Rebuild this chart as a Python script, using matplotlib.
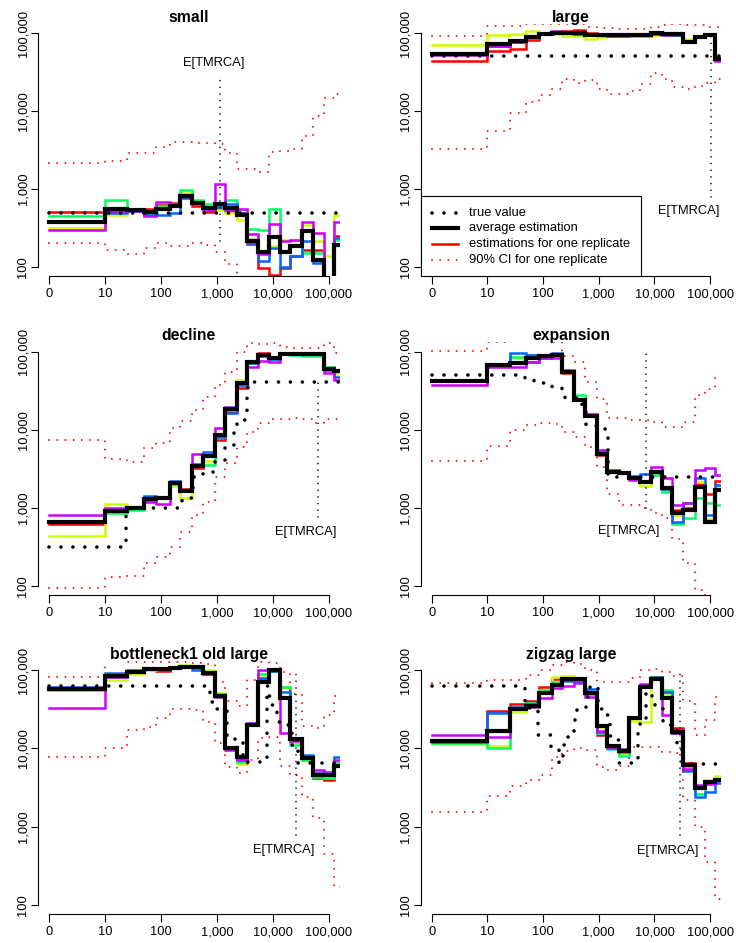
import numpy as np
import matplotlib
matplotlib.use('Agg')
import matplotlib.pyplot as plt
from matplotlib.lines import Line2D
from matplotlib.patches import Rectangle

plt.rcParams['font.family'] = ['Liberation Sans', 'DejaVu Sans']

# ---------------- data ----------------
# common step grid (time); 0 is drawn at the "0" tick (position of 1 on the log axis)
TIME_EDGES = [0, 10, 25, 49, 83, 145, 220, 355, 575, 930, 1410, 2290, 3470, 5560,
              8710, 13500, 20400, 33100, 52500, 81300, 123000, 200000]
X_TICKS = [0, 10, 100, 1000, 10000, 100000]
X_TICK_LABELS = ['0', '10', '100', '1,000', '10,000', '100,000']
Y_TICKS = [100, 1000, 10000, 100000]
Y_TICK_LABELS = ['100', '1,000', '10,000', '100,000']
REP_COLORS = ['#FF0000', '#CCFF00', '#00FF66', '#0066FF', '#CC00FF']
TITLES = ['small', 'large', 'decline', 'expansion', 'bottleneck1 old large', 'zigzag large']
LEGEND_LABELS = ['true value', 'average estimation', 'estimations for one replicate',
                 '90% CI for one replicate']

# small
SMALL_AVG = [376, 557, 531, 505, 550, 597, 810, 658, 570, 645, 570, 467, 213, 157, 242, 158, 184, 292, 122, 60, 193]
SMALL_RED = [505, 530, 530, 550, 620, 658, 760, 610, 505, 570, 520, 467, 200, 98, 78, 96, 137, 165, 163, 60, 250]
SMALL_YELLOW = [315, 467, 520, 520, 570, 600, 880, 690, 568, 545, 490, 403, 228, 152, 184, 224, 224, 345, 213, 137, 467]
SMALL_GREEN = [445, 720, 535, 467, 600, 640, 970, 720, 645, 620, 720, 490, 308, 300, 550, 159, 193, 152, 152, 70, 224]
SMALL_BLUE = [380, 490, 525, 467, 467, 490, 800, 660, 545, 590, 645, 490, 205, 121, 175, 101, 137, 218, 112, 60, 235]
SMALL_PURPLE = [300, 520, 530, 445, 685, 640, 840, 660, 545, 1150, 545, 557, 265, 148, 360, 218, 224, 380, 272, 60, 380]
SMALL_CI_HIGH = [2140, 2290, 2900, 2900, 3500, 4000, 4000, 3900, 3900, 3800, 2900, 1800, 1800, 1650, 3000, 3100, 3300, 4800, 8500, 14500, 16500]
SMALL_CI_LOW = [203, 165, 146, 175, 203, 184, 184, 205, 193, 155, 110, 75, 60, 50, 45, 40, 40, 35, 30, 30, 30]
SMALL_TRUE_T = [0]
SMALL_TRUE_N = [500]
SMALL_TMRCA = [1150, 213, 26000]

# large
LARGE_AVG = [54400, 73000, 79000, 89000, 98000, 100000, 100000, 100000, 95000, 95000, 93000, 93000, 93000, 93000, 100000, 97000, 97000, 77000, 89000, 95000, 47000]
LARGE_RED = [43500, 58000, 63000, 82000, 97000, 100000, 106000, 110000, 100000, 98000, 93000, 93000, 93000, 93000, 97000, 97000, 95000, 80000, 90000, 97000, 46000]
LARGE_YELLOW = [70500, 95000, 98000, 106000, 98000, 97000, 92000, 92000, 84000, 90000, 92000, 92000, 92000, 92000, 95000, 95000, 93000, 83000, 88000, 95000, 48000]
LARGE_GREEN = [53000, 67500, 77000, 89000, 97000, 100000, 100000, 98000, 97000, 93000, 92000, 92000, 92000, 92000, 97000, 95000, 95000, 80000, 90000, 95000, 47000]
LARGE_BLUE = [53000, 67500, 77000, 89000, 97000, 100000, 100000, 98000, 97000, 95000, 92000, 92000, 93000, 95000, 97000, 97000, 95000, 80000, 90000, 97000, 45000]
LARGE_PURPLE = [52000, 67500, 77000, 89000, 100000, 105000, 100000, 100000, 97000, 95000, 93000, 93000, 93000, 95000, 97000, 95000, 97000, 77000, 92000, 98000, 44000]
LARGE_CI_HIGH = [92000, 124000, 124000, 129000, 132000, 132000, 132000, 132000, 120000, 117000, 115000, 114000, 114000, 114000, 120000, 128000, 130000, 128000, 125000, 118000, 118000]
LARGE_CI_LOW = [3260, 5580, 9300, 13100, 16000, 19400, 26000, 23000, 25000, 19400, 16500, 16500, 18000, 22000, 31000, 26000, 20000, 19000, 21000, 23000, 26000]
LARGE_TRUE_T = [0]
LARGE_TRUE_N = [50000]
LARGE_TMRCA = [102000, 800, 98000]

# decline
DECLINE_AVG = [665, 920, 1000, 1290, 1325, 2100, 1660, 3440, 4660, 8570, 18400, 39400, 74000, 90800, 82000, 93000, 93000, 93000, 93000, 59600, 56000]
DECLINE_RED = [620, 920, 1000, 1330, 1340, 2150, 1770, 3200, 4800, 7500, 16800, 34000, 72000, 95000, 82000, 95000, 93000, 90000, 90000, 62000, 57000]
DECLINE_YELLOW = [436, 1120, 960, 1290, 1340, 1900, 1350, 3440, 4000, 8900, 18500, 43400, 72000, 89000, 82000, 93000, 93000, 93000, 93000, 64000, 52000]
DECLINE_GREEN = [665, 850, 950, 1230, 1370, 2050, 1640, 3440, 3550, 8200, 17700, 40000, 72000, 89000, 80000, 93000, 91000, 88000, 88000, 64000, 59000]
DECLINE_BLUE = [665, 920, 1000, 1430, 1340, 2210, 1700, 3600, 5250, 8200, 16200, 37000, 72000, 89000, 80000, 97000, 95000, 93000, 93000, 58000, 47000]
DECLINE_PURPLE = [810, 1000, 1000, 1200, 1120, 2150, 1660, 4900, 4660, 10600, 19800, 40000, 64500, 76800, 74500, 95000, 95000, 93000, 93000, 53500, 44000]
DECLINE_CI_HIGH = [7400, 4200, 3830, 5800, 6700, 10400, 13000, 17900, 26000, 37400, 55000, 100000, 128000, 125000, 128000, 116000, 110000, 110000, 110000, 130000, 97000]
DECLINE_CI_LOW = [93, 131, 135, 196, 237, 318, 497, 811, 1200, 2510, 3720, 6080, 9500, 12300, 13600, 13600, 14000, 13800, 12100, 13600, 13600]
DECLINE_TRUE_T = [0, 24, 234, 380, 575, 910, 1410, 2000, 2340, 3430, 3520, 3630]
DECLINE_TRUE_N = [318, 1000, 1350, 2500, 2900, 3900, 6300, 10100, 13300, 19500, 28100, 40600]
DECLINE_TMRCA = [63500, 770, 41300]

# expansion
EXPANSION_AVG = [42000, 67500, 72000, 82000, 88000, 92000, 55500, 24000, 15000, 4900, 2910, 2760, 2450, 2160, 2840, 1780, 850, 940, 1870, 665, 1690]
EXPANSION_RED = [42000, 67500, 74500, 74500, 84000, 92000, 52800, 24500, 15000, 4700, 3100, 2840, 2400, 2200, 2840, 1700, 940, 1000, 2000, 1500, 2180]
EXPANSION_YELLOW = [42000, 67500, 82000, 82000, 88000, 92000, 55500, 25000, 15000, 4900, 2910, 2840, 2400, 1900, 2840, 1700, 800, 950, 2150, 730, 1900]
EXPANSION_GREEN = [42000, 67500, 86000, 90000, 92000, 92000, 55500, 27900, 15000, 4900, 2910, 2840, 2450, 2200, 2600, 1620, 630, 735, 1330, 1140, 1100]
EXPANSION_BLUE = [43500, 67500, 95000, 92000, 92000, 95000, 58000, 25000, 15000, 5200, 2910, 2840, 2550, 2700, 3000, 1750, 660, 1140, 2400, 800, 1950]
EXPANSION_PURPLE = [37500, 64000, 64000, 74500, 84000, 82000, 55500, 24000, 15900, 5500, 2910, 2840, 2260, 2160, 3300, 2400, 1090, 1140, 3050, 3200, 2630]
EXPANSION_CI_HIGH = [103000, 132000, 150000, 150000, 150000, 132000, 89000, 74000, 41000, 25000, 14000, 14000, 13500, 13500, 12500, 11000, 11000, 12500, 28000, 33600, 45600]
EXPANSION_CI_LOW = [4000, 6200, 10000, 11500, 12300, 12000, 9500, 8200, 6100, 3300, 1500, 1090, 1090, 1000, 850, 735, 400, 200, 90, 50, 40]
EXPANSION_TRUE_T = [0, 48, 68, 100, 145, 219, 251, 490, 589, 912, 1445]
EXPANSION_TRUE_N = [50000, 45600, 41300, 39900, 33800, 31700, 25200, 20000, 11200, 10100, 2500]
EXPANSION_TMRCA = [7080, 990, 95000]

# bottleneck1 old large
BOTTLENECK_AVG = [56600, 84000, 95000, 103000, 103000, 107000, 110000, 110000, 90600, 46600, 10200, 7830, 19900, 71000, 100000, 43500, 13000, 7500, 4500, 4500, 5900]
BOTTLENECK_RED = [56600, 82000, 92000, 103000, 98000, 105000, 110000, 108000, 88000, 48000, 10500, 6900, 19900, 80000, 98000, 61000, 12000, 7000, 4200, 4000, 6800]
BOTTLENECK_YELLOW = [56600, 74500, 90000, 100000, 103000, 107000, 115000, 105000, 100000, 50400, 10500, 6400, 19900, 80600, 98000, 61000, 12000, 7000, 4600, 4500, 6600]
BOTTLENECK_GREEN = [55000, 82000, 94000, 103000, 103000, 107000, 112000, 110000, 95000, 49000, 10500, 6700, 19900, 90000, 98000, 61000, 11000, 7100, 4300, 4200, 6700]
BOTTLENECK_BLUE = [61300, 92500, 100000, 105000, 103000, 107000, 110000, 100000, 92000, 47000, 10500, 7400, 19900, 78000, 98000, 53000, 13400, 8300, 4900, 5000, 7800]
BOTTLENECK_PURPLE = [32500, 82000, 94000, 103000, 103000, 107000, 110000, 110000, 90000, 44800, 9500, 7000, 21300, 100000, 100000, 15500, 12500, 7600, 5300, 4800, 7200]
BOTTLENECK_CI_HIGH = [80600, 134000, 126000, 126000, 125000, 125000, 125000, 122000, 118000, 70000, 40000, 34700, 75000, 127000, 124000, 95000, 50000, 19000, 18000, 27000, 46000]
BOTTLENECK_CI_LOW = [7700, 10000, 17100, 18900, 24200, 31500, 31500, 31000, 22000, 11600, 5700, 4800, 7200, 13400, 14100, 6000, 4500, 2400, 1300, 450, 170]
BOTTLENECK_TRUE_T = [0, 760, 1000, 1500, 2100, 3000, 7900, 8500, 9500, 12000, 17000, 22000, 28000]
BOTTLENECK_TRUE_N = [63000, 39400, 31800, 14400, 12800, 6600, 62500, 46700, 35700, 21900, 19900, 11000, 6460]
BOTTLENECK_TMRCA = [26300, 790, 95000]

# zigzag large
ZIGZAG_AVG = [12300, 16800, 32000, 34400, 50800, 65000, 76300, 76000, 51500, 19400, 10600, 9300, 24100, 61200, 77500, 43500, 16000, 6200, 3100, 3680, 4000]
ZIGZAG_RED = [12200, 30300, 36500, 40600, 61300, 76500, 80000, 76000, 50000, 14800, 10200, 9200, 24200, 61200, 80600, 43500, 18000, 6500, 3200, 3800, 4000]
ZIGZAG_YELLOW = [11200, 10800, 29000, 33400, 56000, 82200, 84000, 80000, 50000, 18600, 10000, 8300, 22300, 21500, 82000, 50000, 15500, 6000, 3300, 3900, 4420]
ZIGZAG_GREEN = [11800, 10000, 31500, 38000, 56000, 70000, 76000, 74000, 50000, 15500, 9700, 7970, 24200, 61200, 80600, 55500, 15500, 6000, 2650, 3700, 3900]
ZIGZAG_BLUE = [12200, 27900, 33400, 37000, 53000, 67000, 72000, 71000, 56700, 16300, 10700, 9100, 24200, 61200, 80600, 52500, 15500, 5200, 2410, 2800, 3580]
ZIGZAG_PURPLE = [14600, 14100, 33000, 33400, 44300, 58400, 62400, 67500, 44800, 16800, 10200, 9700, 25400, 66300, 76000, 26600, 15500, 5500, 3400, 3500, 3900]
ZIGZAG_CI_HIGH = [67600, 74500, 74500, 86300, 100000, 116000, 125000, 120000, 100000, 71000, 71000, 71000, 78000, 100000, 103000, 95000, 85000, 40000, 15000, 23000, 45600]
ZIGZAG_CI_LOW = [1550, 2470, 3300, 3900, 4600, 7800, 9350, 10000, 9500, 5800, 5300, 6000, 10500, 10300, 10300, 9100, 8700, 2200, 1000, 350, 120]
ZIGZAG_TRUE_T = [0, 47, 54, 81, 138, 190, 224, 229, 269, 355, 398, 589, 692, 955, 1413, 1585, 2239, 2344,
                 5012, 7079, 8913, 10233, 14125, 17783, 25119, 31623]
ZIGZAG_TRUE_N = [63000, 39400, 32300, 14800, 10500, 6460, 8000, 11000, 14100, 22700, 32300, 45000, 63000, 31600,
                 26600, 14400, 12600, 6500, 20300, 63000, 46500, 35700, 22000, 19900, 11300, 6400]
ZIGZAG_TMRCA = [28200, 790, 95000]

# ---------------- layout ----------------
W, H, DPI = 736, 943, 100
COL_X = [(38.1, 339.7), (420.6, 721.3)]
ROW_Y = [(23.6, 276.4), (342.3, 595.4), (660.6, 914.4)]
LABEL_POS = [(890, 41000), (40700, 515), (39300, 495), (3470, 505), (16000, 500), (17000, 490)]
FS = 9.3
FS_TITLE = 11.3

PANELS = [
    (SMALL_AVG, [SMALL_RED, SMALL_YELLOW, SMALL_GREEN, SMALL_BLUE, SMALL_PURPLE],
     SMALL_CI_LOW, SMALL_CI_HIGH, SMALL_TRUE_T, SMALL_TRUE_N, SMALL_TMRCA),
    (LARGE_AVG, [LARGE_RED, LARGE_YELLOW, LARGE_GREEN, LARGE_BLUE, LARGE_PURPLE],
     LARGE_CI_LOW, LARGE_CI_HIGH, LARGE_TRUE_T, LARGE_TRUE_N, LARGE_TMRCA),
    (DECLINE_AVG, [DECLINE_RED, DECLINE_YELLOW, DECLINE_GREEN, DECLINE_BLUE, DECLINE_PURPLE],
     DECLINE_CI_LOW, DECLINE_CI_HIGH, DECLINE_TRUE_T, DECLINE_TRUE_N, DECLINE_TMRCA),
    (EXPANSION_AVG, [EXPANSION_RED, EXPANSION_YELLOW, EXPANSION_GREEN, EXPANSION_BLUE, EXPANSION_PURPLE],
     EXPANSION_CI_LOW, EXPANSION_CI_HIGH, EXPANSION_TRUE_T, EXPANSION_TRUE_N, EXPANSION_TMRCA),
    (BOTTLENECK_AVG, [BOTTLENECK_RED, BOTTLENECK_YELLOW, BOTTLENECK_GREEN, BOTTLENECK_BLUE, BOTTLENECK_PURPLE],
     BOTTLENECK_CI_LOW, BOTTLENECK_CI_HIGH, BOTTLENECK_TRUE_T, BOTTLENECK_TRUE_N, BOTTLENECK_TMRCA),
    (ZIGZAG_AVG, [ZIGZAG_RED, ZIGZAG_YELLOW, ZIGZAG_GREEN, ZIGZAG_BLUE, ZIGZAG_PURPLE],
     ZIGZAG_CI_LOW, ZIGZAG_CI_HIGH, ZIGZAG_TRUE_T, ZIGZAG_TRUE_N, ZIGZAG_TMRCA),
]

TRUE_STYLE = dict(color='black', lw=2.6, ls=(0, (0.01, 3.3)), dash_capstyle='round')
CI_STYLE = dict(color='#FF0000', lw=1.4, ls=(0, (0.01, 4.2)), dash_capstyle='round')
TM_STYLE = dict(color='black', lw=1.2, ls=(0, (0.01, 4.0)), dash_capstyle='round')
REP_LW = 1.8
AVG_LW = 3.0


def xpos(t):
    return np.maximum(np.asarray(t, dtype=float), 1.0)


def steps(ax, edges, vals, **kw):
    x = xpos(edges)
    y = list(vals) + [vals[-1]]
    ax.plot(x, y, drawstyle='steps-post', **kw)


fig = plt.figure(figsize=(W / DPI, H / DPI), dpi=DPI)

for i, (avg, reps, ci_lo, ci_hi, tt, tn, tm) in enumerate(PANELS):
    r, c = divmod(i, 2)
    x0, x1 = COL_X[c]
    y0, y1 = ROW_Y[r]
    ax = fig.add_axes([x0 / W, 1 - y1 / H, (x1 - x0) / W, (y1 - y0) / H])
    ax.set_xscale('log')
    ax.set_yscale('log')
    ax.set_xlim(10 ** -0.2, 10 ** 5.2)
    ax.set_ylim(10 ** 1.88, 10 ** 5.12)

    for vals, col in zip(reps, REP_COLORS):
        steps(ax, TIME_EDGES, vals, color=col, lw=REP_LW, solid_joinstyle='miter')
    steps(ax, TIME_EDGES, ci_lo, **CI_STYLE)
    steps(ax, TIME_EDGES, ci_hi, **CI_STYLE)
    steps(ax, TIME_EDGES, avg, color='black', lw=AVG_LW, solid_joinstyle='miter')
    steps(ax, list(tt) + [TIME_EDGES[-1]], list(tn), **TRUE_STYLE)
    ax.plot([tm[0], tm[0]], [tm[1], tm[2]], **TM_STYLE)
    lx, ly = LABEL_POS[i]
    ax.text(lx, ly, 'E[TMRCA]', ha='center', va='center', fontsize=FS)

    for s in ['top', 'right']:
        ax.spines[s].set_visible(False)
    ax.spines['left'].set_bounds(100, 100000)
    ax.spines['bottom'].set_bounds(1, 100000)
    for s in ['left', 'bottom']:
        ax.spines[s].set_linewidth(0.8)
    ax.set_xticks(xpos(X_TICKS))
    ax.set_xticklabels(X_TICK_LABELS)
    ax.set_yticks(Y_TICKS)
    ax.set_yticklabels(Y_TICK_LABELS, rotation=90, va='center')
    ax.minorticks_off()
    ax.tick_params(axis='both', length=5.4, width=0.8, labelsize=FS)
    ax.tick_params(axis='x', pad=3.0)
    ax.tick_params(axis='y', pad=0.8)
    ax.patch.set_visible(False)

    fig.text((x0 + x1) / 2 / W, 1 - (y0 - 2) / H, TITLES[i], ha='center', va='baseline',
             fontsize=FS_TITLE, fontweight='bold')


# legend (drawn in the "large" panel, bottom-left corner)
def fx(px):
    return px / W


def fy(py):
    return 1 - py / H


fig.add_artist(Rectangle((fx(420.6), fy(276.4)), fx(640.7) - fx(420.6), fy(196) - fy(276.4),
                         transform=fig.transFigure, fill=True, facecolor='white',
                         edgecolor='black', lw=0.8))
leg_styles = [TRUE_STYLE,
              dict(color='black', lw=AVG_LW),
              dict(color='#FF0000', lw=REP_LW),
              CI_STYLE]
row_y = [212.8, 228.4, 244.0, 259.6]
for ly, sty, lab in zip(row_y, leg_styles, LEGEND_LABELS):
    fig.add_artist(Line2D([fx(431.7), fx(458.3)], [fy(ly), fy(ly)], transform=fig.transFigure, **sty))
    fig.text(fx(469), fy(ly), lab, ha='left', va='center', fontsize=FS)

fig.savefig('out.png', dpi=DPI)
